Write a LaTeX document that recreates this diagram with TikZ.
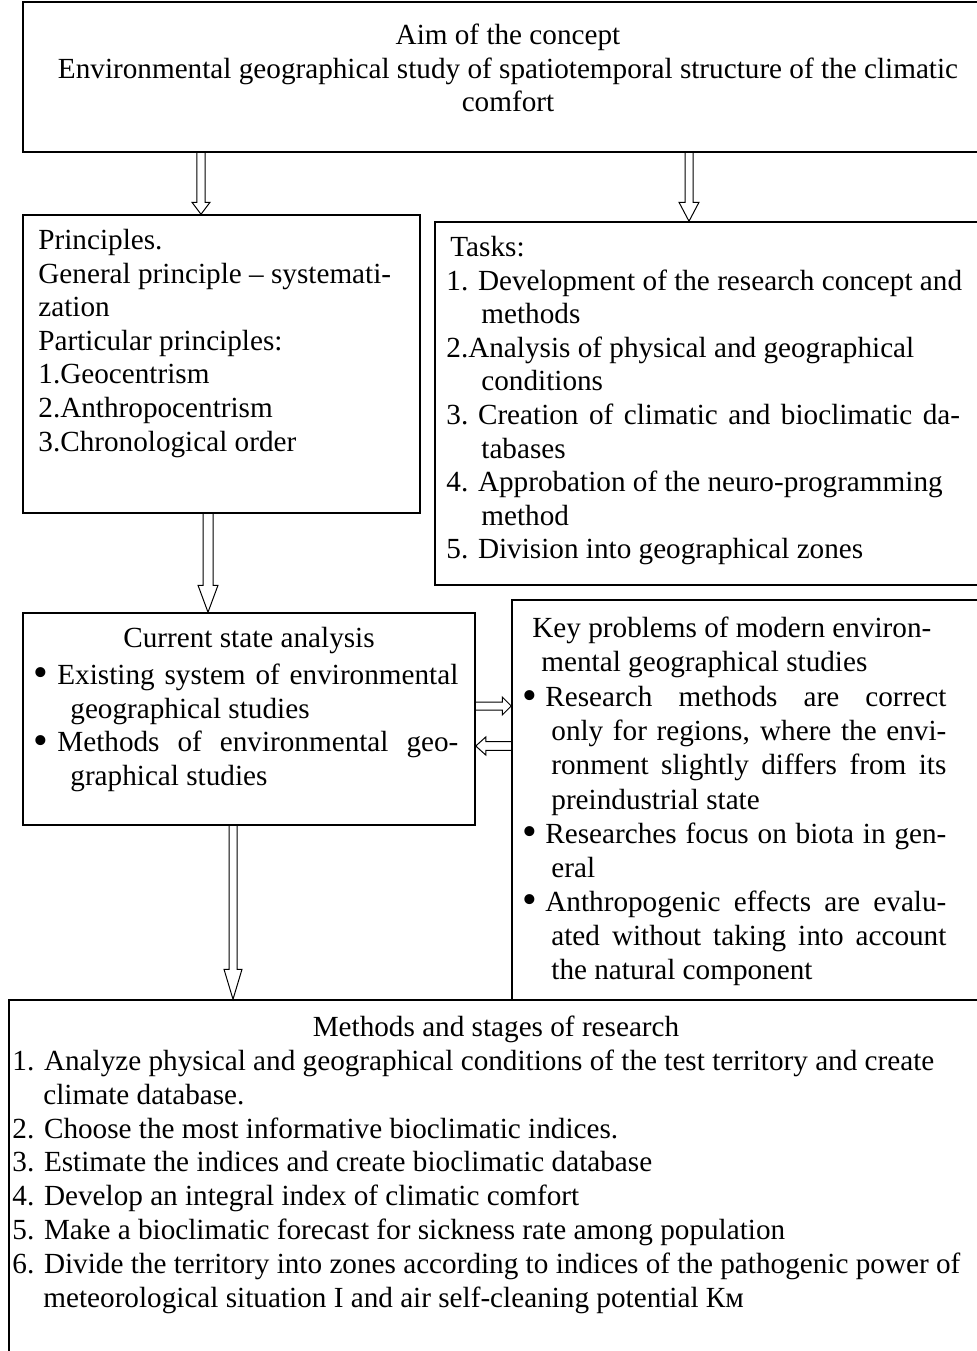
\documentclass[tikz,border=0pt]{standalone}
\usepackage{fontspec}
\setmainfont{Liberation Serif}
\usetikzlibrary{calc,fit}

\newcommand{\jline}[2]{\makebox[#1][s]{#2}}
\newcommand{\blt}[1]{\makebox[#1][l]{\raisebox{-1.2pt}{\fontsize{21pt}{21pt}\selectfont\textbullet}}}

\begin{document}
\begin{tikzpicture}[x=0.5pt, y=-0.5pt,
    every node/.style={font=\fontsize{14.6pt}{16.8pt}\selectfont},
    box/.style={draw, line width=0.75pt, inner sep=0pt},
    txt/.style={inner sep=0pt, anchor=north west, align=left},
    head/.style={inner sep=0pt, anchor=north, align=center},
    hollow/.style n args={3}{line width=0.5pt, to path={
      ($(\tikztostart)!#1!90:(\tikztotarget)$)
      -- ($($(\tikztotarget)!#3!(\tikztostart)$)!#1!90:(\tikztotarget)$)
      -- ($($(\tikztotarget)!#3!(\tikztostart)$)!#2!90:(\tikztotarget)$)
      -- (\tikztotarget)
      -- ($($(\tikztotarget)!#3!(\tikztostart)$)!#2!-90:(\tikztotarget)$)
      -- ($($(\tikztotarget)!#3!(\tikztostart)$)!#1!-90:(\tikztotarget)$)
      -- ($(\tikztostart)!#1!-90:(\tikztotarget)$)}}]
  \useasboundingbox (0,0) rectangle (976,1351);

  % Boxes
  \node[box, fit={(23,2) (995,152)}] (aim) {};
  \node[box, fit={(23,215) (420,513)}] (princ) {};
  \node[box, fit={(435,222) (995,585)}] (tasks) {};
  \node[box, fit={(23,613) (475,825)}] (state) {};
  \node[box, fit={(512,600) (995,1000)}] (probl) {};
  \node[box, fit={(9,1000) (995,1370)}] (stages) {};

  % Texts of the boxes
  \node[head] (aimtext) at (508,20.5) {\strut Aim of the concept\\
    Environmental geographical study of spatiotemporal structure of the climatic\\
    comfort};
  \node[txt] (princtext) at (38,225.5) {\strut Principles.\\
    General principle – systemati-\\
    zation\\
    Particular principles:\\
    1.Geocentrism\\
    2.Anthropocentrism\\
    3.Chronological order};
  \node[txt] (taskstext) at (446,232.5) {\strut\hspace*{2pt}Tasks:\\
    1. Development of the research concept and\\
    \hspace*{17.5pt}methods\\
    2.Analysis of physical and geographical\\
    \hspace*{17.5pt}conditions\\
    3. \jline{241pt}{Creation of climatic and bioclimatic da-}\\
    \hspace*{17.5pt}tabases\\
    4. Approbation of the neuro-programming\\
    \hspace*{17.5pt}method\\
    5. Division into geographical zones};
  \node[head] (statehead) at (249,623.5) {\strut Current state analysis};
  \node[txt] (statetext) at (33,660.5) {\strut\blt{12pt}\jline{200.5pt}{Existing system of environmental}\\
    \hspace*{18.5pt}geographical studies\\
    \blt{12pt}\jline{200.5pt}{Methods of environmental geo-}\\
    \hspace*{18.5pt}graphical studies};
  \node[txt, font=\fontsize{14.6pt}{17.05pt}\selectfont] (problhead) at (532,613.5) {\strut Key problems of modern environ-\\
    \hspace*{4.5pt}mental geographical studies};
  \node[txt, font=\fontsize{14.6pt}{17.05pt}\selectfont] (probltext) at (522,682.5) {\strut\blt{11.5pt}\jline{200.5pt}{Research methods are correct}\\
    \hspace*{14.5pt}\jline{197.5pt}{only for regions, where the envi-}\\
    \hspace*{14.5pt}\jline{197.5pt}{ronment slightly differs from its}\\
    \hspace*{14.5pt}preindustrial state\\
    \blt{11.5pt}\jline{200.5pt}{Researches focus on biota in gen-}\\
    \hspace*{14.5pt}eral\\
    \blt{11.5pt}\jline{200.5pt}{Anthropogenic effects are evalu-}\\
    \hspace*{14.5pt}\jline{197.5pt}{ated without taking into account}\\
    \hspace*{14.5pt}the natural component};
  \node[head] (stageshead) at (496,1012.5) {\strut Methods and stages of research};
  \node[txt, font=\fontsize{14.6pt}{16.9pt}\selectfont] (stagestext) at (12,1046.5) {\strut 1. Analyze physical and geographical conditions of the test territory and create\\
    \hspace*{15.5pt}climate database.\\
    2. Choose the most informative bioclimatic indices.\\
    3. Estimate the indices and create bioclimatic database\\
    4. Develop an integral index of climatic comfort\\
    5. Make a bioclimatic forecast for sickness rate among population\\
    6. Divide the territory into zones according to indices of the pathogenic power of\\
    \hspace*{15.5pt}meteorological situation I and air self-cleaning potential Км};

  % Hollow arrows between the boxes
  \draw[hollow={2.1pt}{4.5pt}{6pt}] (aim.south -| 201,0) to (princ.north -| 201,0);
  \draw[hollow={2pt}{5pt}{9.5pt}] (aim.south -| 689,0) to (tasks.north -| 689,0);
  \draw[hollow={2.5pt}{5pt}{13.5pt}] (princ.south -| 208,0) to (state.north -| 208,0);
  \draw[hollow={2pt}{4.5pt}{15pt}] (state.south -| 233,0) to (stages.north -| 233,0);
  \draw[hollow={2pt}{4.5pt}{4.5pt}] (state.east |- 0,706) to (probl.west |- 0,706);
  \draw[hollow={2.2pt}{4.5pt}{5pt}] (probl.west |- 0,746) to (state.east |- 0,746);
\end{tikzpicture}
\end{document}
